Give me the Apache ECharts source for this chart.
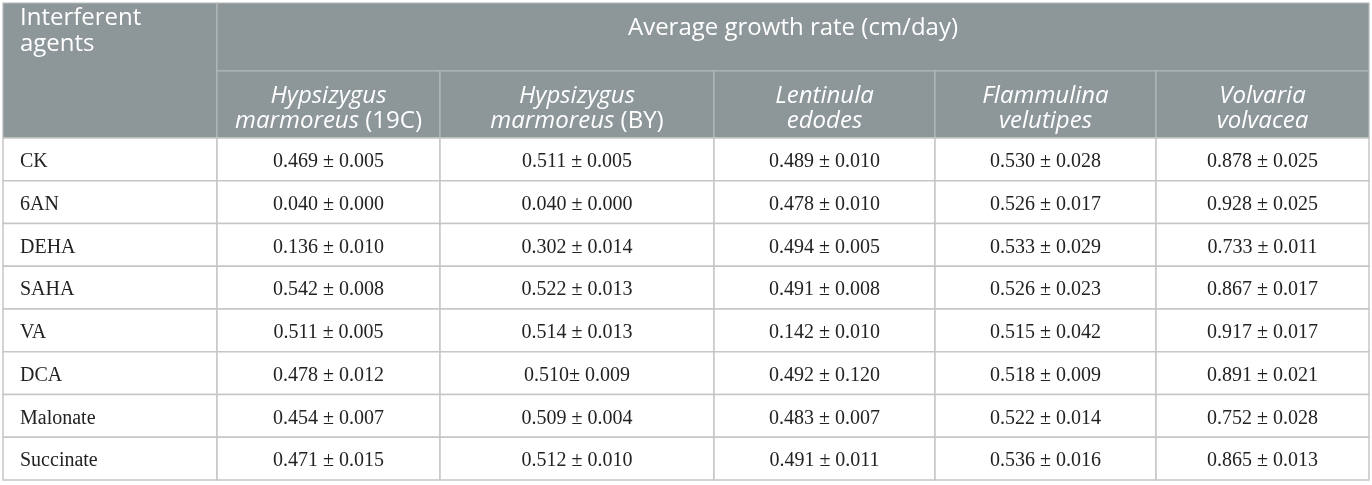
<!DOCTYPE html>
<html>
<head>
<meta charset="utf-8">
<script src="https://cdn.jsdelivr.net/npm/echarts@6/dist/echarts.min.js"></script>
<style>
  html, body { margin: 0; padding: 0; background: #fff; }
  #main { width: 1372px; height: 485px; }
</style>
</head>
<body>
<div id="main"></div>
<script>
// 表格数据
var agents = ['CK', '6AN', 'DEHA', 'SAHA', 'VA', 'DCA', 'Malonate', 'Succinate'];
var species = [
    ['Hypsizygus', 'marmoreus', '(19C)'],
    ['Hypsizygus', 'marmoreus', '(BY)'],
    ['Lentinula', 'edodes', ''],
    ['Flammulina', 'velutipes', ''],
    ['Volvaria', 'volvacea', '']
];
var mean19C = [0.469, 0.040, 0.136, 0.542, 0.511, 0.478, 0.454, 0.471];
var sd19C   = [0.005, 0.000, 0.010, 0.008, 0.005, 0.012, 0.007, 0.015];
var meanBY  = [0.511, 0.040, 0.302, 0.522, 0.514, 0.510, 0.509, 0.512];
var sdBY    = [0.005, 0.000, 0.014, 0.013, 0.013, 0.009, 0.004, 0.010];
var meanLE  = [0.489, 0.478, 0.494, 0.491, 0.142, 0.492, 0.483, 0.491];
var sdLE    = [0.010, 0.010, 0.005, 0.008, 0.010, 0.120, 0.007, 0.011];
var meanFV  = [0.530, 0.526, 0.533, 0.526, 0.515, 0.518, 0.522, 0.536];
var sdFV    = [0.028, 0.017, 0.029, 0.023, 0.042, 0.009, 0.014, 0.016];
var meanVV  = [0.878, 0.928, 0.733, 0.867, 0.917, 0.891, 0.752, 0.865];
var sdVV    = [0.025, 0.025, 0.011, 0.017, 0.017, 0.021, 0.028, 0.013];
var means = [mean19C, meanBY, meanLE, meanFV, meanVV];
var sds = [sd19C, sdBY, sdLE, sdFV, sdVV];
var firstHeader = 'Interferent\nagents';
var groupHeader = 'Average growth rate (cm/day)';

// 布局
var colEdges = [3, 217, 440, 714, 935, 1156, 1369];
var topY = 3, head1Y = 71, head2Y = 138, rowH = 42.75;
var headBg = '#8d9699';
var headLine = '#b4babc';
var bodyLine = '#c6c6c6';
var sansFont = '"Open Sans"';
var serifFont = 'Liberation Serif';
var headSize = 24;

// 单元格
var bodyCells = [];
agents.forEach(function (a, r) {
    bodyCells.push([r, 0]);
    for (var c = 0; c < species.length; c++) {
        bodyCells.push([r, c + 1]);
    }
});

function cellText(r, c) {
    if (c === 0) return agents[r];
    var m = means[c - 1][r].toFixed(3), s = sds[c - 1][r].toFixed(3);
    // DCA / BY 原表缺一个空格
    if (r === 5 && c === 2) return m + '\u00b1 ' + s;
    return m + ' \u00b1 ' + s;
}

// 表头: [x0列, x1列, y0, y1, 文本, 对齐, 文字y, 是否rich]
var headCells = [
    [0, 1, topY, head2Y, firstHeader, 'left', 5, false],
    [1, 6, topY, head1Y, groupHeader, 'center', 28, false]
];
species.forEach(function (sp, i) {
    var t = '{i|' + sp[0] + '}\n{i|' + sp[1] + '}' + (sp[2] ? '{n| ' + sp[2] + '}' : '');
    headCells.push([i + 1, i + 2, head1Y, head2Y, t, 'center', 109, true]);
});

var chart = echarts.init(document.getElementById('main'));
var option = {
    animation: false,
    grid: { left: 0, right: 0, top: 0, bottom: 0 },
    xAxis: { type: 'value', min: 0, max: 1372, show: false },
    yAxis: { type: 'value', min: 0, max: 485, inverse: true, show: false },
    series: [{
        type: 'custom',
        data: headCells.map(function (h, i) { return [i]; }),
        renderItem: function (params, api) {
            var h = headCells[params.dataIndex];
            var p0 = api.coord([colEdges[h[0]], h[2]]);
            var p1 = api.coord([colEdges[h[1]], h[3]]);
            var left = h[5] === 'left';
            var ty = api.coord([0, h[6]])[1];
            var ts = {
                x: left ? p0[0] + 17 : (p0[0] + p1[0]) / 2,
                y: ty,
                text: h[4],
                align: left ? 'left' : 'center',
                verticalAlign: left ? 'top' : 'middle',
                fill: '#fff',
                font: 'normal ' + headSize + 'px ' + sansFont,
                lineHeight: 26
            };
            if (h[7]) {
                ts.rich = {
                    i: { font: 'italic ' + headSize + 'px ' + sansFont, lineHeight: 25, fill: '#fff' },
                    n: { font: 'normal ' + headSize + 'px ' + sansFont, lineHeight: 25, fill: '#fff' }
                };
            }
            return {
                type: 'group',
                children: [{
                    type: 'rect',
                    shape: { x: p0[0], y: p0[1], width: p1[0] - p0[0], height: p1[1] - p0[1] },
                    style: { fill: headBg, stroke: headLine, lineWidth: 1.2 }
                }, {
                    type: 'text',
                    style: ts
                }]
            };
        }
    }, {
        type: 'custom',
        data: bodyCells,
        renderItem: function (params, api) {
            var r = api.value(0), c = api.value(1);
            var p0 = api.coord([colEdges[c], head2Y + r * rowH]);
            var p1 = api.coord([colEdges[c + 1], head2Y + (r + 1) * rowH]);
            return {
                type: 'group',
                children: [{
                    type: 'rect',
                    shape: { x: p0[0], y: p0[1], width: p1[0] - p0[0], height: p1[1] - p0[1] },
                    style: { fill: '#fff', stroke: bodyLine, lineWidth: 1.5 }
                }, {
                    type: 'text',
                    style: {
                        x: c === 0 ? p0[0] + 17 : (p0[0] + p1[0]) / 2,
                        y: (p0[1] + p1[1]) / 2 + 2.5,
                        text: cellText(r, c),
                        align: c === 0 ? 'left' : 'center',
                        verticalAlign: 'middle',
                        fill: '#222',
                        fontSize: 20,
                        fontFamily: serifFont
                    }
                }]
            };
        }
    }]
};
chart.setOption(option);
</script>
</body>
</html>
